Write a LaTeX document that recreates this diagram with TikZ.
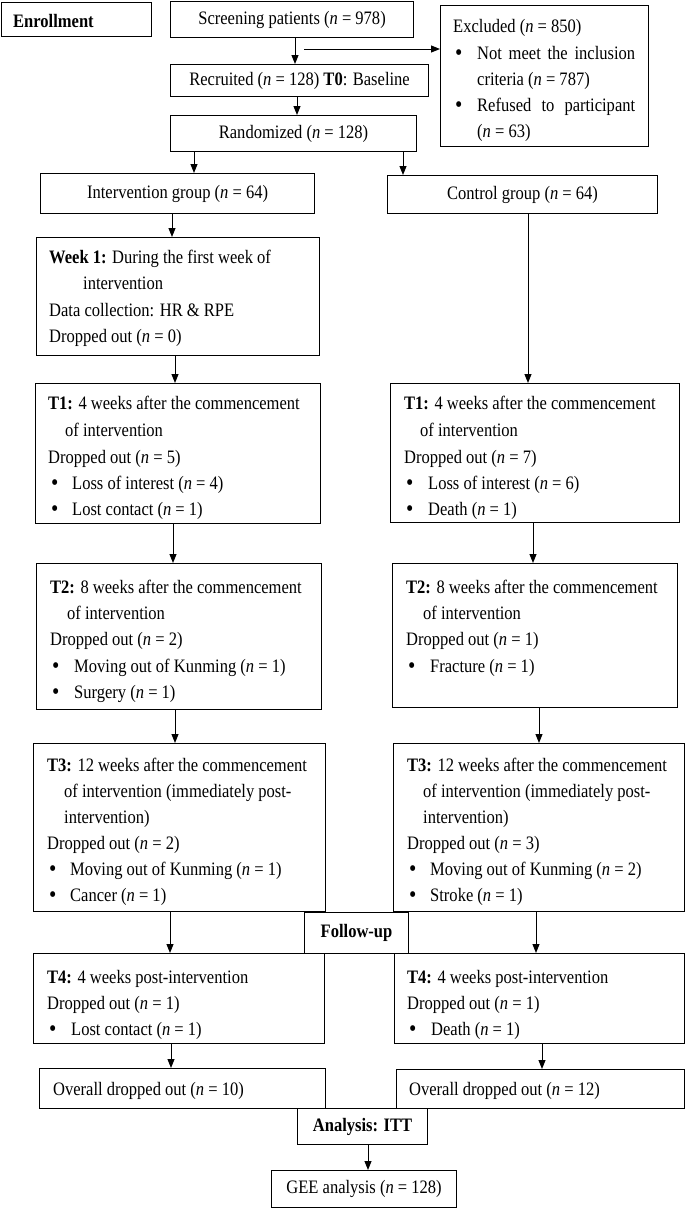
\documentclass[tikz,border=0pt]{standalone}
\usepackage{fontspec}
\setmainfont{Liberation Serif}[FakeStretch=0.87]
\usetikzlibrary{arrows.meta}
\newcommand\nn{\textit{n}}
\newcommand\fs{\fontsize{19pt}{26.3pt}\selectfont}
\newcommand\bul{{\fontsize{24pt}{24pt}\selectfont •}}
\tikzset{
  box/.style={draw, line width=1.1pt, inner sep=0pt, anchor=north west, font=\fs},
  ln/.style={anchor=base west, inner sep=0pt, font=\fs},
  bl/.style={anchor=base west, inner sep=0pt},
  arr/.style={line width=1pt, -{Triangle[length=9pt,width=7pt]}}
}
\newcommand\bx[6]{\node[box, minimum width={(#4-#2)*1pt}, minimum height={(#5-#3)*1pt}] (#1) at (#2,#3) {#6};}
\newcommand\Ln[4]{\node[ln] (#1) at (#2,#3+6) {#4};}
\newcommand\Bu[5]{\node[bl] (#1b) at (#2-1,#4+7.5) {\bul};\node[ln] (#1) at (#3,#4+6) {#5};}
\begin{document}
\begin{tikzpicture}[x=1pt,y=-1pt]
\useasboundingbox (0,0) rectangle (685,1208);
% boxes
\bx{enr}{1}{2}{151}{36}{}
\bx{scr}{170}{1}{413}{37}{Screening patients (\nn{} = 978)}
\bx{excl}{440}{5}{648}{146}{}
\bx{rec}{170}{64}{428}{96}{Recruited (\nn{} = 128) \textbf{T0}: Baseline}
\bx{rand}{170}{115}{416}{151}{Randomized (\nn{} = 128)}
\bx{int}{40}{173}{314}{213}{Intervention group (\nn{} = 64)}
\bx{ctl}{387}{175}{657}{213}{Control group (\nn{} = 64)}
\bx{w1}{36}{237}{319}{355}{}
\bx{t1l}{35}{383}{320}{523}{}
\bx{t1r}{390}{383}{679}{522}{}
\bx{t2l}{36}{563}{321}{709}{}
\bx{t2r}{392}{563}{677}{707}{}
\bx{t3l}{33}{743}{325}{911}{}
\bx{t3r}{393}{743}{684}{911}{}
\bx{fu}{304}{912}{408}{953}{\textbf{Follow-up}}
\bx{t4l}{33}{953}{324}{1043}{}
\bx{t4r}{394}{953}{684}{1043}{}
\bx{ovl}{39}{1068}{325}{1108}{}
\bx{ovr}{396}{1069}{684}{1108}{}
\bx{itt}{297}{1108}{427}{1144}{\textbf{Analysis: ITT}}
\bx{gee}{271}{1170}{456}{1207}{GEE analysis (\nn{} = 128)}
% texts
\Ln{enrT}{13}{21}{\textbf{Enrollment}}
\Ln{exA}{453}{26}{Excluded (\nn{} = 850)}
\Bu{exB}{456}{477}{53}{\makebox[158pt][s]{Not meet the inclusion}}
\Ln{exC}{477}{79}{criteria (\nn{} = 787)}
\Bu{exD}{456}{477}{105}{\makebox[158pt][s]{Refused to participant}}
\Ln{exE}{477}{131}{(\nn{} = 63)}
\Ln{w1A}{49}{257}{\textbf{Week 1:} During the first week of}
\Ln{w1B}{83}{283}{intervention}
\Ln{w1C}{49}{310}{Data collection: HR \& RPE}
\Ln{w1D}{49}{336}{Dropped out (\nn{} = 0)}
\Ln{t1lA}{48}{403}{\textbf{T1:} 4 weeks after the commencement}
\Ln{t1lB}{65}{430}{of intervention}
\Ln{t1lC}{48}{457}{Dropped out (\nn{} = 5)}
\Bu{t1lD}{52}{72}{483}{Loss of interest (\nn{} = 4)}
\Bu{t1lE}{52}{72}{509}{Lost contact (\nn{} = 1)}
\Ln{t1rA}{404}{403}{\textbf{T1:} 4 weeks after the commencement}
\Ln{t1rB}{420}{430}{of intervention}
\Ln{t1rC}{404}{457}{Dropped out (\nn{} = 7)}
\Bu{t1rD}{407}{428}{483}{Loss of interest (\nn{} = 6)}
\Bu{t1rE}{407}{428}{509}{Death (\nn{} = 1)}
\Ln{t2lA}{50}{587}{\textbf{T2:} 8 weeks after the commencement}
\Ln{t2lB}{67}{613}{of intervention}
\Ln{t2lC}{50}{639}{Dropped out (\nn{} = 2)}
\Bu{t2lD}{53}{74}{666}{Moving out of Kunming (\nn{} = 1)}
\Bu{t2lE}{53}{74}{692}{Surgery (\nn{} = 1)}
\Ln{t2rA}{406}{587}{\textbf{T2:} 8 weeks after the commencement}
\Ln{t2rB}{423}{613}{of intervention}
\Ln{t2rC}{406}{639}{Dropped out (\nn{} = 1)}
\Bu{t2rD}{409}{430}{666}{Fracture (\nn{} = 1)}
\Ln{t3lA}{47}{765}{\textbf{T3:} 12 weeks after the commencement}
\Ln{t3lB}{64}{791}{of intervention (immediately post-}
\Ln{t3lC}{64}{817}{intervention)}
\Ln{t3lD}{47}{843}{Dropped out (\nn{} = 2)}
\Bu{t3lE}{50}{70}{869}{Moving out of Kunming (\nn{} = 1)}
\Bu{t3lF}{50}{70}{895}{Cancer (\nn{} = 1)}
\Ln{t3rA}{407}{765}{\textbf{T3:} 12 weeks after the commencement}
\Ln{t3rB}{423}{791}{of intervention (immediately post-}
\Ln{t3rC}{423}{817}{intervention)}
\Ln{t3rD}{407}{843}{Dropped out (\nn{} = 3)}
\Bu{t3rE}{410}{430}{869}{Moving out of Kunming (\nn{} = 2)}
\Bu{t3rF}{410}{430}{895}{Stroke (\nn{} = 1)}
\Ln{t4lA}{47}{977}{\textbf{T4:} 4 weeks post-intervention}
\Ln{t4lB}{47}{1003}{Dropped out (\nn{} = 1)}
\Bu{t4lC}{50}{71}{1029}{Lost contact (\nn{} = 1)}
\Ln{t4rA}{407}{977}{\textbf{T4:} 4 weeks post-intervention}
\Ln{t4rB}{407}{1003}{Dropped out (\nn{} = 1)}
\Bu{t4rC}{410}{431}{1029}{Death (\nn{} = 1)}
\Ln{ovlT}{53}{1089}{Overall dropped out (\nn{} = 10)}
\Ln{ovrT}{409}{1089}{Overall dropped out (\nn{} = 12)}
% arrow columns
\coordinate (c1) at (295,0);
\coordinate (c2) at (297,0);
\coordinate (c3) at (194,0);
\coordinate (c4) at (403,0);
\coordinate (c5) at (172,0);
\coordinate (c6) at (528,0);
\coordinate (c7) at (175,0);
\coordinate (c8) at (173,0);
\coordinate (c9) at (533,0);
\coordinate (c10) at (175,0);
\coordinate (c11) at (539,0);
\coordinate (c12) at (170,0);
\coordinate (c13) at (536,0);
\coordinate (c14) at (171,0);
\coordinate (c15) at (542,0);
\coordinate (c16) at (368,0);
\coordinate (hx) at (304,49);
% connectors
\draw[arr] (scr.south -| c1) -- (rec.north -| c1);
\draw[arr] (hx) -- (hx -| excl.west);
\draw[arr] (rec.south -| c2) -- (rand.north -| c2);
\draw[arr] (rand.south -| c3) -- (int.north -| c3);
\draw[arr] (rand.south -| c4) -- (ctl.north -| c4);
\draw[arr] (int.south -| c5) -- (w1.north -| c5);
\draw[arr] (ctl.south -| c6) -- (t1r.north -| c6);
\draw[arr] (w1.south -| c7) -- (t1l.north -| c7);
\draw[arr] (t1l.south -| c8) -- (t2l.north -| c8);
\draw[arr] (t1r.south -| c9) -- (t2r.north -| c9);
\draw[arr] (t2l.south -| c10) -- (t3l.north -| c10);
\draw[arr] (t2r.south -| c11) -- (t3r.north -| c11);
\draw[arr] (t3l.south -| c12) -- (t4l.north -| c12);
\draw[arr] (t3r.south -| c13) -- (t4r.north -| c13);
\draw[arr] (t4l.south -| c14) -- (ovl.north -| c14);
\draw[arr] (t4r.south -| c15) -- (ovr.north -| c15);
\draw[arr] (itt.south -| c16) -- (gee.north -| c16);
\end{tikzpicture}
\end{document}
